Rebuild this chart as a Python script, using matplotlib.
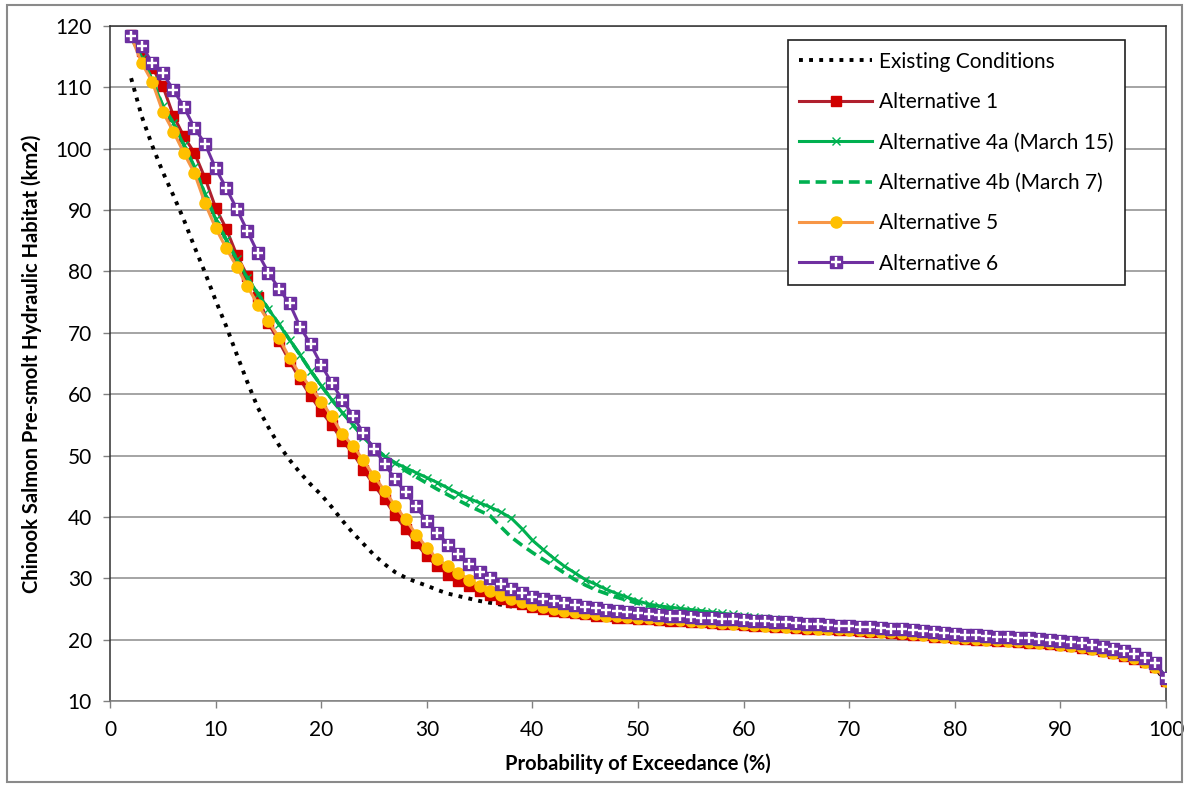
import matplotlib
matplotlib.use('Agg')
import matplotlib.pyplot as plt
from matplotlib.patches import Rectangle
from matplotlib.legend_handler import HandlerTuple

# ---------------- data (probability of exceedance, %) ----------------
x = list(range(2, 101))

existing = [111.5, 105.3, 100.5, 96.2, 92.4, 88.4, 84.0, 79.8, 75.3, 71.1,
            66.5, 62.0, 57.8, 54.6, 51.7, 49.3, 47.2, 45.3, 43.6, 41.6,
            39.4, 37.4, 35.6, 33.8, 32.3, 31.0, 30.1, 29.4, 28.8, 28.1,
            27.5, 27.1, 26.7, 26.3, 26.0, 25.7, 25.4, 25.2, 25.0, 24.7,
            24.5, 24.3, 24.1, 23.9, 23.8, 23.7, 23.5, 23.4, 23.3, 23.2,
            23.1, 23.0, 22.9, 22.8, 22.7, 22.6, 22.5, 22.4, 22.3, 22.2,
            22.1, 22.0, 21.9, 21.8, 21.7, 21.6, 21.6, 21.5, 21.4, 21.3,
            21.2, 21.1, 21.0, 20.9, 20.7, 20.6, 20.4, 20.3, 20.1, 20.0,
            19.9, 19.8, 19.7, 19.6, 19.5, 19.4, 19.3, 19.2, 19.0, 18.8,
            18.6, 18.3, 18.0, 17.7, 17.3, 16.8, 16.2, 15.4, 13.1]

alt1 = [118.6, 116.0, 113.2, 110.2, 105.4, 102.0, 99.3, 95.2, 90.4, 87.0,
        82.7, 79.3, 75.9, 71.6, 68.6, 65.4, 62.4, 59.7, 57.2, 55.0,
        52.4, 50.4, 47.7, 45.2, 42.9, 40.3, 38.0, 35.7, 33.6, 32.0,
        30.6, 29.6, 28.7, 27.9, 27.2, 26.7, 26.2, 25.8, 25.4, 25.0,
        24.7, 24.5, 24.3, 24.1, 23.9, 23.8, 23.6, 23.5, 23.4, 23.3,
        23.2, 23.1, 23.0, 22.9, 22.8, 22.7, 22.6, 22.5, 22.4, 22.3,
        22.2, 22.1, 22.0, 21.9, 21.8, 21.7, 21.7, 21.6, 21.5, 21.4,
        21.3, 21.2, 21.1, 21.0, 20.8, 20.7, 20.5, 20.4, 20.2, 20.1,
        20.0, 19.9, 19.8, 19.7, 19.6, 19.5, 19.4, 19.3, 19.1, 18.9,
        18.7, 18.4, 18.1, 17.8, 17.4, 16.9, 16.3, 15.5, 13.2]

alt4a = [118.2, 114.8, 111.2, 107.0, 104.2, 100.6, 97.0, 92.6, 88.6, 85.2,
         82.0, 79.0, 76.4, 73.9, 71.4, 68.9, 66.4, 63.8, 61.4, 59.1,
         57.0, 55.0, 53.0, 51.3, 49.9, 48.8, 48.0, 47.2, 46.4, 45.6,
         44.7, 43.8, 43.0, 42.3, 41.6, 40.8, 39.8, 38.1, 36.2, 34.7,
         33.3, 32.0, 30.9, 29.8, 29.0, 28.2, 27.5, 26.9, 26.3, 25.8,
         25.5, 25.3, 25.1, 24.9, 24.7, 24.5, 24.3, 24.1, 23.9, 23.7,
         23.5, 23.4, 23.2, 23.1, 22.9, 22.8, 22.7, 22.6, 22.5, 22.4,
         22.3, 22.2, 22.1, 21.9, 21.8, 21.6, 21.4, 21.3, 21.1, 20.9,
         20.8, 20.6, 20.5, 20.4, 20.3, 20.2, 20.1, 20.0, 19.8, 19.6,
         19.4, 19.1, 18.8, 18.5, 18.1, 17.6, 17.0, 16.2, 13.8]

alt4b = [118.2, 114.8, 111.2, 107.0, 104.2, 100.6, 97.0, 92.6, 88.6, 85.2,
         82.0, 79.0, 76.4, 73.9, 71.4, 68.9, 66.4, 63.8, 61.4, 59.1,
         57.0, 55.0, 53.0, 51.3, 49.9, 48.8, 47.5, 46.5, 45.5, 44.5,
         43.6, 42.7, 41.8, 41.0, 40.2, 38.4, 36.7, 35.4, 34.2, 33.1,
         32.0, 30.9, 29.8, 28.9, 28.1, 27.5, 26.9, 26.4, 25.9, 25.5,
         25.2, 25.0, 24.9, 24.8, 24.6, 24.4, 24.2, 24.0, 23.8, 23.6,
         23.4, 23.3, 23.1, 23.0, 22.8, 22.7, 22.6, 22.5, 22.4, 22.3,
         22.2, 22.1, 22.0, 21.8, 21.7, 21.5, 21.3, 21.2, 21.0, 20.8,
         20.7, 20.5, 20.4, 20.3, 20.2, 20.1, 20.0, 19.9, 19.7, 19.5,
         19.3, 19.0, 18.7, 18.4, 18.0, 17.5, 16.9, 16.1, 13.7]

alt5 = [118.3, 114.0, 110.9, 106.0, 102.8, 99.3, 96.0, 91.1, 87.1, 83.8,
        80.8, 77.6, 74.6, 71.9, 69.2, 65.9, 63.2, 61.2, 58.8, 56.4,
        53.5, 51.6, 49.2, 46.6, 44.3, 41.8, 39.6, 37.1, 35.0, 33.1,
        32.0, 30.9, 29.8, 28.8, 27.9, 27.2, 26.6, 26.1, 25.7, 25.3,
        25.0, 24.7, 24.5, 24.3, 24.1, 23.9, 23.8, 23.7, 23.6, 23.5,
        23.4, 23.3, 23.2, 23.1, 22.9, 22.8, 22.7, 22.6, 22.5, 22.4,
        22.3, 22.2, 22.1, 22.0, 21.9, 21.8, 21.8, 21.7, 21.6, 21.5,
        21.4, 21.3, 21.2, 21.1, 20.9, 20.8, 20.6, 20.5, 20.3, 20.2,
        20.1, 20.0, 19.9, 19.8, 19.7, 19.6, 19.5, 19.4, 19.2, 19.0,
        18.8, 18.5, 18.2, 17.9, 17.5, 17.0, 16.4, 15.6, 13.3]

alt6 = [118.4, 116.8, 114.0, 112.3, 109.6, 106.8, 103.4, 100.8, 96.8, 93.6,
        90.2, 86.6, 83.0, 79.8, 77.2, 74.8, 71.0, 68.1, 64.8, 61.8,
        59.1, 56.5, 53.6, 51.1, 48.7, 46.1, 44.0, 41.7, 39.3, 37.4,
        35.5, 33.9, 32.4, 31.1, 30.0, 29.0, 28.3, 27.6, 27.0, 26.7,
        26.3, 26.0, 25.7, 25.4, 25.2, 24.9, 24.7, 24.5, 24.3, 24.2,
        24.0, 23.9, 23.8, 23.7, 23.6, 23.5, 23.4, 23.3, 23.2, 23.1,
        23.0, 22.9, 22.8, 22.7, 22.6, 22.5, 22.4, 22.3, 22.2, 22.1,
        22.0, 21.9, 21.8, 21.7, 21.5, 21.4, 21.2, 21.1, 20.9, 20.8,
        20.7, 20.6, 20.5, 20.4, 20.3, 20.2, 20.1, 20.0, 19.8, 19.6,
        19.4, 19.1, 18.8, 18.5, 18.1, 17.6, 17.0, 16.2, 13.8]

labels = ["Existing Conditions", "Alternative 1", "Alternative 4a (March 15)",
          "Alternative 4b (March 7)", "Alternative 5", "Alternative 6"]
x_ticks = [0, 10, 20, 30, 40, 50, 60, 70, 80, 90, 100]
y_ticks = [10, 20, 30, 40, 50, 60, 70, 80, 90, 100, 110, 120]
x_label = "Probability of Exceedance (%)"
y_label = "Chinook Salmon Pre-smolt Hydraulic Habitat (km2)"

# ---------------- figure ----------------
plt.rcParams['font.family'] = ['Lato', 'DejaVu Sans']
W, H = 1189, 787
fig = plt.figure(figsize=(W / 100, H / 100), dpi=100)
fig.patches.append(Rectangle((7 / W, 5 / H), 1 - 14 / W, 1 - 10 / H,
                             transform=fig.transFigure, fill=False,
                             edgecolor='#8a8a8a', linewidth=1.5))
ax = fig.add_axes([110 / W, 86 / H, 1056 / W, 675 / H])

h_ex, = ax.plot(x, existing, color='black', linestyle=(0, (1, 1.6)),
                linewidth=2.8, label=labels[0], zorder=3)
h_a1, = ax.plot(x, alt1, color='#B0202E', linewidth=2.2, marker='s',
                markersize=7.5, markerfacecolor='#D00000',
                markeredgecolor='#D00000', label=labels[1], zorder=4)
h_4a, = ax.plot(x, alt4a, color='#00B050', linewidth=2.2, marker='x',
                markersize=6, markeredgewidth=1.0, label=labels[2], zorder=5)
h_4b, = ax.plot(x, alt4b, color='#00B050', linewidth=2.6,
                linestyle=(0, (3, 1.6)), label=labels[3], zorder=5)
h_a5, = ax.plot(x, alt5, color='#F79646', linewidth=2.2, marker='o',
                markersize=8, markerfacecolor='#FFC000',
                markeredgecolor='#FFC000', label=labels[4], zorder=6)
h_a6, = ax.plot(x, alt6, color='#7030A0', linewidth=2.2, marker='s',
                markersize=8.5, markerfacecolor='#7030A0',
                markeredgecolor='#6A2FA0', label=labels[5], zorder=7)
h_a6p, = ax.plot(x, alt6, linestyle='none', marker='+', markersize=6.5,
                 markeredgewidth=1.7, color='white', zorder=8)

ax.set_xlim(0, 100)
ax.set_ylim(10, 120)
ax.set_xticks(x_ticks)
ax.set_yticks(y_ticks)
ax.yaxis.grid(True, color='#8c8c8c', linewidth=1.1)
ax.set_axisbelow(True)
for s in ['left', 'top', 'right']:
    ax.spines[s].set_color('#303030')
    ax.spines[s].set_linewidth(1.1)
ax.spines['bottom'].set_color('#808080')
ax.spines['bottom'].set_linewidth(1.1)
ax.tick_params(axis='both', direction='out', length=5, width=1,
               color='#808080', labelsize=15)
ax.tick_params(axis='x', pad=9)
ax.tick_params(axis='y', pad=8)
ax.set_xlabel(x_label, fontsize=14.5, fontweight='bold', labelpad=9)
ax.set_ylabel(y_label, fontsize=14.5, fontweight='bold', labelpad=10)

handles = [h_ex, h_a1, h_4a, h_4b, h_a5, (h_a6, h_a6p)]
leg = ax.legend(handles, labels, loc='upper left',
                bbox_to_anchor=(0.642, 0.979), fontsize=15,
                frameon=True, fancybox=False, edgecolor='#202020',
                framealpha=1, handlelength=3.5, handletextpad=0.3,
                labelspacing=0.98, borderpad=0.55, borderaxespad=0,
                handler_map={tuple: HandlerTuple(ndivide=1, pad=0)})
leg.get_frame().set_linewidth(1.2)
leg.set_zorder(20)

fig.savefig('out.png', dpi=100)
